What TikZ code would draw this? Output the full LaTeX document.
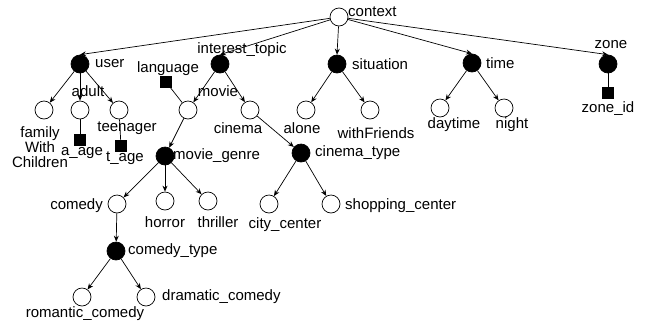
\documentclass[tikz,border=0pt]{standalone}
\usepackage{fontspec}
\setmainfont{Liberation Sans}
\usetikzlibrary{arrows.meta}
\begin{document}
\begin{tikzpicture}[x=1pt,y=-1pt, font=\fontsize{15}{16}\selectfont,
  oc/.style={circle,draw,fill=white,minimum size=18pt,inner sep=0pt,line width=0.7pt},
  fc/.style={circle,draw,fill=black,minimum size=18pt,inner sep=0pt,line width=0.7pt},
  sq/.style={rectangle,draw,fill=black,minimum size=11pt,inner sep=0pt},
  lab/.style={inner sep=0pt},
  arr/.style={-{Stealth[length=6pt,width=5pt]}, line width=0.7pt},
  ln/.style={line width=0.7pt}]
\useasboundingbox (0,0) rectangle (647,322);
% nodes
\node[oc] (context) at (339,17) {};
\node[fc] (user) at (80,64) {};
\node[fc] (interest) at (220,64) {};
\node[fc] (situation) at (337,64) {};
\node[fc] (time) at (472,63) {};
\node[fc] (zone) at (608,64) {};
\node[sq] (zoneid) at (608,93) {};
\node[oc] (family) at (44,110) {};
\node[oc] (adult) at (80,110) {};
\node[oc] (teen) at (119,110) {};
\node[sq] (aage) at (80,140) {};
\node[sq] (tage) at (121,146) {};
\node[sq] (language) at (166,82) {};
\node[oc] (movie) at (188,110) {};
\node[oc] (cinema) at (250,110) {};
\node[fc] (genre) at (165,156) {};
\node[fc] (ctype) at (301,153) {};
\node[oc] (comedy) at (117,204) {};
\node[oc] (horror) at (165,201) {};
\node[oc] (thriller) at (208,201) {};
\node[oc] (city) at (269,204) {};
\node[oc] (shopping) at (331,204) {};
\node[fc] (comtype) at (116,251) {};
\node[oc] (romantic) at (82,297) {};
\node[oc] (dramatic) at (146,297) {};
\node[oc] (alone) at (306,110) {};
\node[oc] (friends) at (370,110) {};
\node[oc] (daytime) at (440,108) {};
\node[oc] (night) at (504,108) {};
% labels
\node[lab,anchor=west] (lcontext) at (348,12) {context};
\node[lab,anchor=west] (luser) at (95,64) {user};
\node[lab] (linterest) at (242,50) {interest\_topic};
\node[lab,anchor=west] (lsituation) at (352,64) {situation};
\node[lab,anchor=west] (ltime) at (486,63) {time};
\node[lab] (lzone) at (611,45) {zone};
\node[lab] (lzoneid) at (608,109) {zone\_id};
\node[lab,align=center] (lfamily) at (40,147) {family\\[-1pt]With\\[-1pt]Children};
\node[lab] (ladult) at (88,91) {adult};
\node[lab] (lteen) at (127,128) {teenager};
\node[lab] (laage) at (82,153) {a\_age};
\node[lab] (ltage) at (125,158) {t\_age};
\node[lab] (llanguage) at (168,69) {language};
\node[lab] (lmovie) at (218,91) {movie};
\node[lab] (lcinema) at (238,128) {cinema};
\node[lab,anchor=west] (lgenre) at (173,156) {movie\_genre};
\node[lab,anchor=west] (lctype) at (315,153) {cinema\_type};
\node[lab,anchor=east] (lcomedy) at (103,206) {comedy};
\node[lab] (lhorror) at (165,222) {horror};
\node[lab] (lthriller) at (218,222) {thriller};
\node[lab] (lcity) at (285,225) {city\_center};
\node[lab,anchor=west] (lshopping) at (345,206) {shopping\_center};
\node[lab,anchor=west] (lcomtype) at (128,251) {comedy\_type};
\node[lab] (lromantic) at (85,314) {romantic\_comedy};
\node[lab,anchor=west] (ldramatic) at (162,297) {dramatic\_comedy};
\node[lab] (lalone) at (302,128) {alone};
\node[lab] (lfriends) at (376,133) {withFriends};
\node[lab] (ldaytime) at (454,125) {daytime};
\node[lab] (lnight) at (512,125) {night};
% connectors
\foreach \b in {user,interest,situation,time,zone}
  \draw[arr] (context) -- (\b.north);
\foreach \a/\b in {
  user/family,user/adult,user/teen,interest/movie,interest/cinema,movie/genre,cinema/ctype,
  genre/comedy,genre/horror,genre/thriller,comedy/comtype,comtype/romantic,comtype/dramatic,
  ctype/city,ctype/shopping,situation/alone,situation/friends,time/daytime,time/night}
  \draw[arr] (\a) -- (\b);
\foreach \a/\b in {adult/aage,teen/tage,language/movie,zone/zoneid}
  \draw[ln] (\a) -- (\b);
\end{tikzpicture}
\end{document}
